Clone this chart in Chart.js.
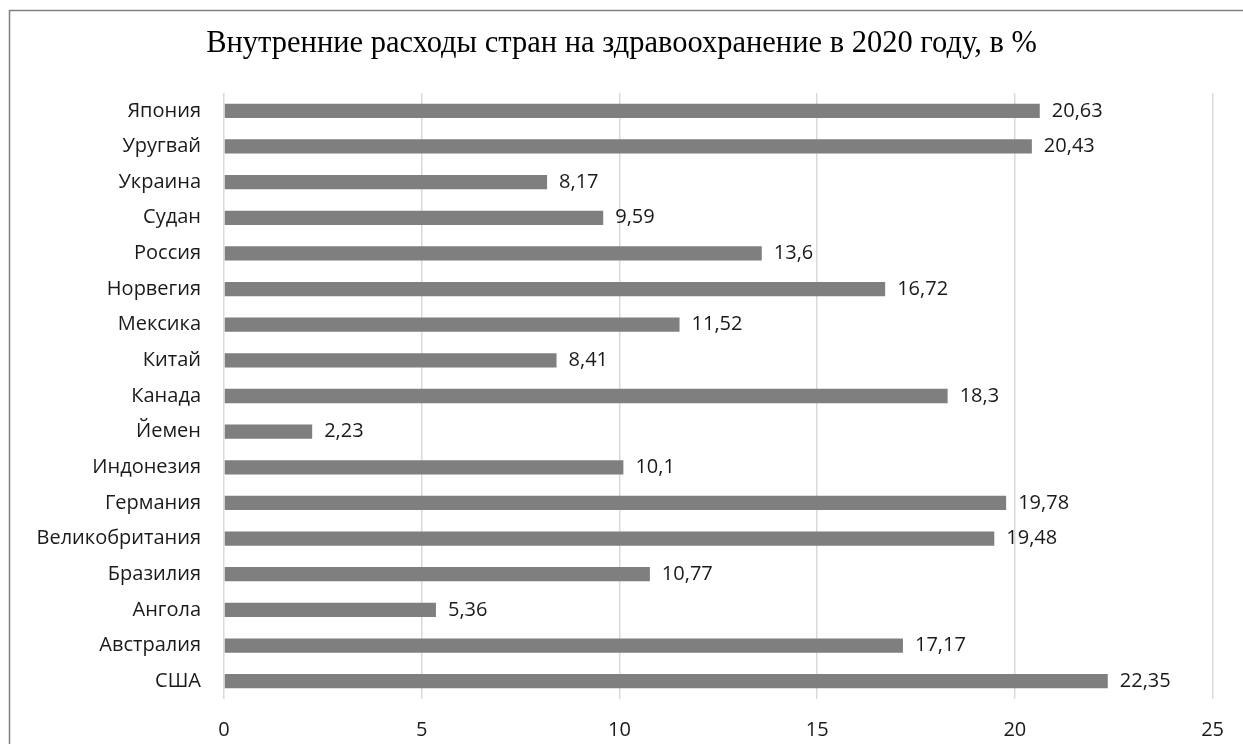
<!DOCTYPE html>
<html>
<head>
<meta charset="utf-8">
<script src="https://cdn.jsdelivr.net/npm/chart.js@4"></script>
<style>
	body { margin: 0; background: #fff; }
	#wrap { width: 1243px; height: 744px; overflow: hidden; }
</style>
</head>
<body>
<div id="wrap"><canvas id="chart" width="1243" height="744"></canvas></div>
<script>
	'use strict';

	var countries = ['Япония', 'Уругвай', 'Украина', 'Судан', 'Россия', 'Норвегия', 'Мексика', 'Китай',
		'Канада', 'Йемен', 'Индонезия', 'Германия', 'Великобритания', 'Бразилия', 'Ангола', 'Австралия', 'США'];
	var spending = [20.63, 20.43, 8.17, 9.59, 13.6, 16.72, 11.52, 8.41,
		18.3, 2.23, 10.1, 19.78, 19.48, 10.77, 5.36, 17.17, 22.35];
	var xTicks = [0, 5, 10, 15, 20, 25];
	var titleText = 'Внутренние расходы стран на здравоохранение в 2020 году, в %';

	var labelFont = '"Open Sans", "Liberation Sans", sans-serif';

	/**
	 * White background and the frame that runs off the picture
	 */
	var framePlugin = {
		id: 'frame',
		beforeDraw: function (chart) {
			var ctx = chart.ctx;
			ctx.save();
			ctx.fillStyle = '#fff';
			ctx.fillRect(0, 0, chart.width, chart.height);
			ctx.strokeStyle = '#7f7f7f';
			ctx.lineWidth = 1.5;
			ctx.strokeRect(9.5, 10.5, 1400, 900);
			ctx.restore();
		}
	};

	/**
	 * Value labels at the end of each bar, with a decimal comma
	 */
	var valueLabels = {
		id: 'valueLabels',
		afterDatasetsDraw: function (chart) {
			var ctx = chart.ctx,
				meta = chart.getDatasetMeta(0);

			ctx.save();
			ctx.font = '20px ' + labelFont;
			ctx.fillStyle = '#1a1a1a';
			ctx.textBaseline = 'middle';
			ctx.textAlign = 'left';
			meta.data.forEach(function (bar, i) {
				ctx.fillText(String(spending[i]).replace('.', ','), bar.x + 12, bar.y);
			});
			ctx.restore();
		}
	};

	new Chart(document.getElementById('chart'), {
		type: 'bar',
		data: {
			labels: countries,
			datasets: [{
				data: spending,
				backgroundColor: '#7f7f7f',
				barPercentage: 0.4,
				categoryPercentage: 1
			}]
		},
		options: {
			indexAxis: 'y',
			responsive: false,
			animation: false,
			devicePixelRatio: 1,
			layout: {padding: {left: 29, right: 29, top: 0, bottom: 0}},
			plugins: {
				legend: {display: false},
				tooltip: {enabled: false},
				title: {
					display: true,
					text: titleText,
					color: '#000',
					font: {family: '"Liberation Serif", "Times New Roman", serif', size: 30.5, weight: 'normal'},
					padding: {top: 26, bottom: 30.4}
				}
			},
			scales: {
				x: {
					min: 0,
					max: 25,
					afterBuildTicks: function (scale) {
						scale.ticks = xTicks.map(function (v) { return {value: v}; });
					},
					afterFit: function (scale) {
						scale.height = 45;
					},
					grid: {color: '#d9d9d9', lineWidth: 1.5, drawTicks: false},
					border: {display: false},
					ticks: {
						padding: 19,
						color: '#1a1a1a',
						font: {family: labelFont, size: 20}
					}
				},
				y: {
					afterFit: function (scale) {
						scale.width = 195;
					},
					grid: {display: false, drawTicks: false},
					border: {display: false},
					ticks: {
						padding: 23,
						color: '#1a1a1a',
						font: {family: labelFont, size: 20}
					}
				}
			}
		},
		plugins: [framePlugin, valueLabels]
	});
</script>
</body>
</html>
